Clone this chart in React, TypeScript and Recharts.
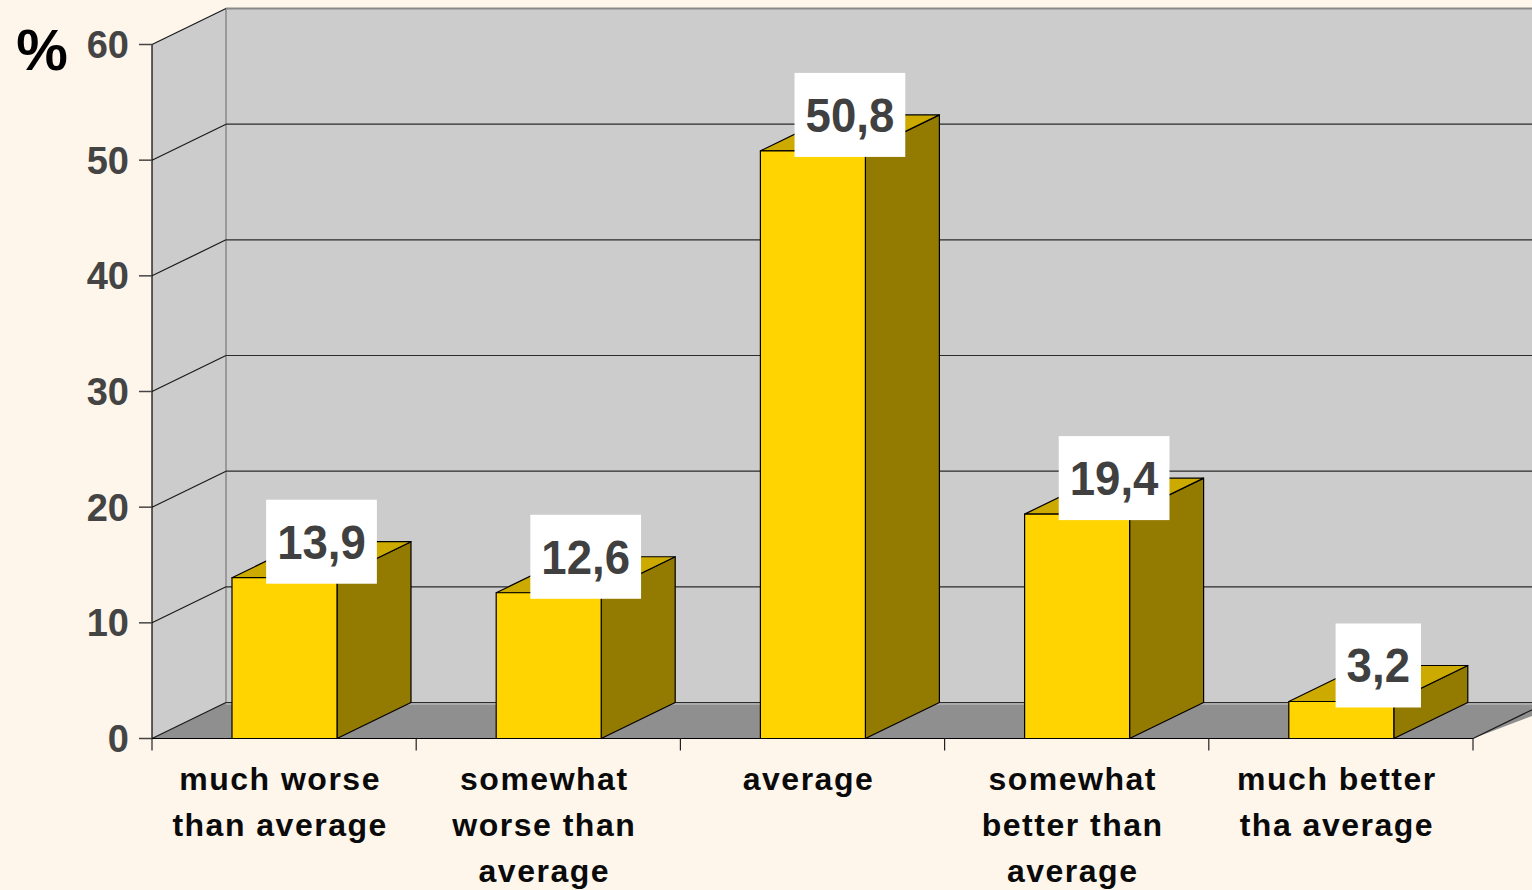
import React from 'react';
import { BarChart, Bar, XAxis, YAxis, ReferenceArea } from 'recharts';

const categories = [
  'much worse\nthan average',
  'somewhat\nworse than\naverage',
  'average',
  'somewhat\nbetter than\naverage',
  'much better\ntha average',
];
const values = [13.9, 12.6, 50.8, 19.4, 3.2];
const yTicks = [0, 10, 20, 30, 40, 50, 60];
const yUnit = '%';

const data = categories.map((c, i) => ({ cat: c, value: values[i] }));

const DX = 74;
const DY = 36;
const FONT = '"Liberation Sans", Arial, Helvetica, sans-serif';

function Walls(props: any) {
  const { x, y, width, height } = props;
  if (x == null || y == null) return null;
  const yMax = yTicks[yTicks.length - 1];
  const yAt = (v: number) => y + height - (height * v) / yMax;
  const bottom = y + height;
  const right = x + width;
  return (
    <g>
      <polygon
        points={`${x},${y} ${x + DX},${y - DY} ${x + DX},${bottom - DY} ${x},${bottom}`}
        fill="#CCCCCC"
      />
      <rect x={x + DX} y={y - DY} width={width + 20} height={height} fill="#CCCCCC" />
      <polygon
        points={`${x},${bottom} ${x + DX},${bottom - DY} ${right + DX + 20},${bottom - DY} ${right + DX + 20},${bottom - DY} ${right},${bottom}`}
        fill="#8F8F8F"
      />
      <line x1={x + DX} y1={bottom - DY + 1.5} x2={right + DX + 20} y2={bottom - DY + 1.5} stroke="#AAAAAA" strokeWidth={2} />
      <line x1={x + DX} y1={y - DY} x2={x + DX} y2={bottom - DY} stroke="#9A9A9A" strokeWidth={2} />
      {yTicks.map((v, i) => {
        const yy = yAt(v);
        const isTop = i === yTicks.length - 1;
        return (
          <g key={v}>
            <line x1={x} y1={yy} x2={x + DX} y2={yy - DY} stroke="#1A1A1A" strokeWidth={1.2} />
            <line
              x1={x + DX}
              y1={yy - DY}
              x2={right + DX + 20}
              y2={yy - DY}
              stroke={isTop ? '#8A8A8A' : '#2A2A2A'}
              strokeWidth={isTop ? 2 : 1.2}
            />
          </g>
        );
      })}
      <line x1={right} y1={bottom} x2={right + DX} y2={bottom - DY} stroke="#1A1A1A" strokeWidth={1.2} />
    </g>
  );
}

function Box3D(props: any) {
  const { x, y, width, height } = props;
  if (x == null || y == null || !height) return null;
  const r = x + width;
  const b = y + height;
  return (
    <g stroke="#000" strokeWidth={1.2} strokeLinejoin="round">
      <polygon points={`${r},${y} ${r + DX},${y - DY} ${r + DX},${b - DY} ${r},${b}`} fill="#937A00" />
      <polygon points={`${x},${y} ${x + DX},${y - DY} ${r + DX},${y - DY} ${r},${y}`} fill="#CCAA00" />
      <rect x={x} y={y} width={width} height={height} fill="#FFD400" />
    </g>
  );
}

function ValueLabel(props: any) {
  const { x, y, width, value } = props;
  if (x == null || y == null || value == null) return null;
  const txt = Number(value).toFixed(1).replace('.', ',');
  const fs = 48;
  const sx = 0.95;
  const tw = txt.split('').reduce((s, ch) => s + (ch === ',' ? 0.278 : 0.556), 0) * fs * sx;
  const bw = tw + 22;
  const bh = 84;
  const cx = x + width / 2 + DX / 2;
  const cy = y - DY;
  return (
    <g>
      <rect x={cx - bw / 2} y={cy - bh / 2} width={bw} height={bh} fill="#FFFFFF" />
      <text
        transform={`translate(${cx},${cy + 17}) scale(${sx},1)`}
        x={0}
        y={0}
        textAnchor="middle"
        fontFamily={FONT}
        fontWeight="bold"
        fontSize={fs}
        fill="#404040"
      >
        {txt}
      </text>
    </g>
  );
}

function XTick(props: any) {
  const { x, y, payload, index, width } = props;
  const lines = String(payload.value).split('\n');
  let off = payload && payload.offset ? payload.offset : 0;
  if (!off) off = (width || 1321) / categories.length / 2;
  const last = index === categories.length - 1;
  return (
    <g>
      <line x1={x - off} y1={y - 12} x2={x - off} y2={y} stroke="#222" strokeWidth={1.2} />
      {last && <line x1={x + off} y1={y - 12} x2={x + off} y2={y} stroke="#222" strokeWidth={1.2} />}
      <text
        textAnchor="middle"
        fontFamily={FONT}
        fontWeight="bold"
        fontSize={32}
        letterSpacing={1.5}
        fill="#0A0A0A"
      >
        {lines.map((l, i) => (
          <tspan key={i} x={x - 4} y={y + 39.5 + i * 46}>
            {l}
          </tspan>
        ))}
      </text>
    </g>
  );
}

function YTick(props: any) {
  const { x, y, payload } = props;
  return (
    <text
      x={x}
      y={y + 13.6}
      textAnchor="end"
      fontFamily={FONT}
      fontWeight="bold"
      fontSize={38}
      fill="#444444"
    >
      {payload.value}
    </text>
  );
}

function UnitLabel(props: any) {
  const vb = props.viewBox || { x: 0, y: 44.5 };
  return (
    <text
      x={vb.x + 42}
      y={vb.y + 25}
      textAnchor="middle"
      fontFamily={FONT}
      fontWeight="bold"
      fontSize={58}
      fill="#000000"
    >
      {yUnit}
    </text>
  );
}

export default function App() {
  return (
    <div
      style={{
        position: 'fixed',
        left: 0,
        top: 0,
        width: 1532,
        height: 890,
        background: '#FEF6EB',
        overflow: 'hidden',
      }}
    >
      <BarChart
        width={1532}
        height={890}
        data={data}
        margin={{ top: 44.5, right: 59, left: 0, bottom: 0 }}
      >
        <ReferenceArea y1={0} y2={60} ifOverflow="visible" shape={(p: any) => <Walls {...p} />} />
        <XAxis
          dataKey="cat"
          height={151.5}
          interval={0}
          tickLine={false}
          tickSize={12}
          tickMargin={0}
          axisLine={{ stroke: '#000', strokeWidth: 1.2 }}
          tick={(p: any) => <XTick {...p} />}
        />
        <YAxis
          width={152}
          domain={[0, 60]}
          ticks={yTicks}
          interval={0}
          tickSize={13}
          tickMargin={10}
          tickLine={{ stroke: '#444', strokeWidth: 1.5 }}
          axisLine={{ stroke: '#000', strokeWidth: 1.2 }}
          tick={(p: any) => <YTick {...p} />}
          label={(p: any) => <UnitLabel {...p} />}
        />
        <Bar
          dataKey="value"
          barSize={105}
          isAnimationActive={false}
          shape={(p: any) => <Box3D {...p} />}
          label={(p: any) => <ValueLabel {...p} />}
        />
      </BarChart>
    </div>
  );
}
